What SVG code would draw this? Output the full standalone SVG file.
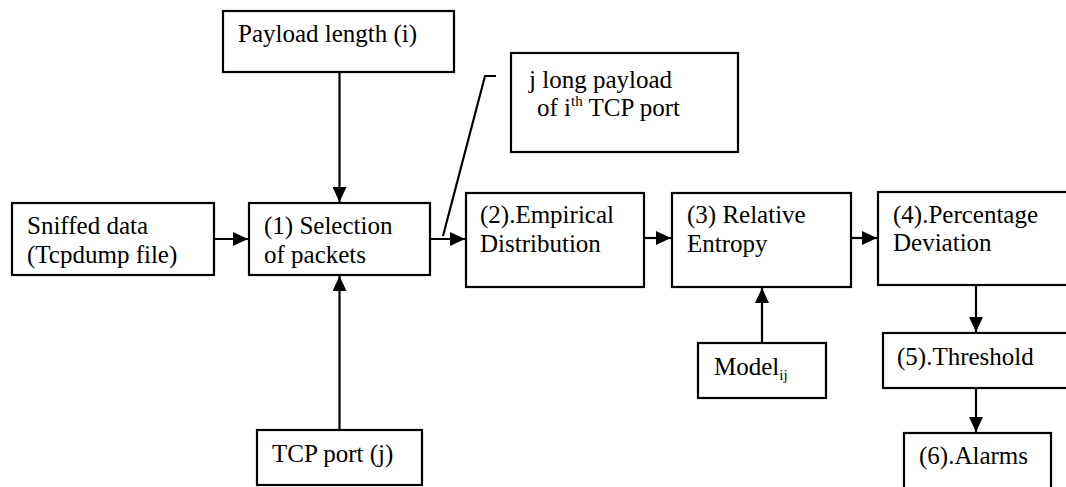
<svg xmlns="http://www.w3.org/2000/svg" width="1066" height="487" viewBox="0 0 1066 487">
<style>
.box{fill:#fff;stroke:#000;stroke-width:2.2}
.t{font-family:"Liberation Serif","Times New Roman",serif;font-size:25px;fill:#000}
.c{fill:none;stroke:#000;stroke-width:2.2}
</style>
<defs>
<marker id="ah" markerUnits="userSpaceOnUse" markerWidth="15" markerHeight="14" refX="15" refY="7" orient="auto">
<path d="M0,0 L15,7 L0,14 z" fill="#000"/>
</marker>
</defs>
<rect width="1066" height="487" fill="#fff"/>
<g id="connectors">
<line class="c" x1="339.5" y1="72" x2="339.5" y2="202" marker-end="url(#ah)"/>
<line class="c" x1="339.5" y1="430" x2="339.5" y2="276" marker-end="url(#ah)"/>
<line class="c" x1="214" y1="239" x2="248" y2="239" marker-end="url(#ah)"/>
<line class="c" x1="430" y1="239" x2="465" y2="239" marker-end="url(#ah)"/>
<line class="c" x1="644" y1="238" x2="671" y2="238" marker-end="url(#ah)"/>
<line class="c" x1="851" y1="238" x2="877" y2="238" marker-end="url(#ah)"/>
<line class="c" x1="762" y1="343" x2="762" y2="288" marker-end="url(#ah)"/>
<line class="c" x1="976" y1="285" x2="976" y2="332" marker-end="url(#ah)"/>
<line class="c" x1="976" y1="388" x2="976" y2="432" marker-end="url(#ah)"/>
<polyline class="c" points="443,236 485,76 496,76"/>
</g>
<g id="payload">
<rect class="box" x="223" y="11" width="231" height="61"/>
<text class="t" x="238" y="42">Payload length (i)</text>
</g>
<g id="jlong">
<rect class="box" x="511" y="53" width="227" height="99"/>
<text class="t" x="529" y="88">j long payload</text>
<text class="t" x="537" y="116">of i<tspan font-size="15" dy="-10">th</tspan><tspan dy="10"> TCP port</tspan></text>
</g>
<g id="sniffed">
<rect class="box" x="12" y="203" width="202" height="72"/>
<text class="t" x="27" y="234">Sniffed data</text>
<text class="t" x="27" y="263">(Tcpdump file)</text>
</g>
<g id="selection">
<rect class="box" x="249" y="203" width="181" height="72"/>
<text class="t" x="264" y="234">(1) Selection</text>
<text class="t" x="264" y="263">of packets</text>
</g>
<g id="empirical">
<rect class="box" x="466" y="193" width="178" height="94"/>
<text class="t" x="480" y="223">(2).Empirical</text>
<text class="t" x="480" y="252">Distribution</text>
</g>
<g id="entropy">
<rect class="box" x="672" y="193" width="179" height="94"/>
<text class="t" x="687" y="223">(3) Relative</text>
<text class="t" x="687" y="252">Entropy</text>
</g>
<g id="percentage">
<rect class="box" x="878" y="192" width="200" height="93"/>
<text class="t" x="893" y="223">(4).Percentage</text>
<text class="t" x="893" y="251">Deviation</text>
</g>
<g id="threshold">
<rect class="box" x="883" y="333" width="200" height="55"/>
<text class="t" x="897" y="365">(5).Threshold</text>
</g>
<g id="alarms">
<rect class="box" x="904" y="433" width="147" height="60"/>
<text class="t" x="919" y="464">(6).Alarms</text>
</g>
<g id="model">
<rect class="box" x="698" y="343" width="128" height="55"/>
<text class="t" x="714" y="375">Model<tspan font-size="15" dy="5">ij</tspan></text>
</g>
<g id="tcpport">
<rect class="box" x="257" y="430" width="165" height="55"/>
<text class="t" x="272" y="462">TCP port (j)</text>
</g>
</svg>
